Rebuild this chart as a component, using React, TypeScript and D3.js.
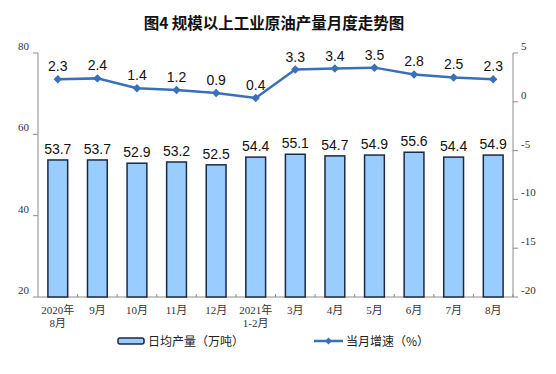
import React from "react";
import { scaleBand, scaleLinear, line } from "d3";

const categories = ["2020年\n8月", "9月", "10月", "11月", "12月", "2021年\n1-2月", "3月", "4月", "5月", "6月", "7月", "8月"];
const dailyOutput = [53.7, 53.7, 52.9, 53.2, 52.5, 54.4, 55.1, 54.7, 54.9, 55.6, 54.4, 54.9];
const growth = [2.3, 2.4, 1.4, 1.2, 0.9, 0.4, 3.3, 3.4, 3.5, 2.8, 2.5, 2.3];
const leftTicks = [20, 40, 60, 80];
const rightTicks = [-20, -15, -10, -5, 0, 5];

const width = 556;
const height = 374;
const margin = { top: 53, right: 43, bottom: 77, left: 38 };

const App = () => {
  const innerWidth = width - margin.left - margin.right;
  const innerHeight = height - margin.top - margin.bottom;

  const xScale = scaleBand<number>()
    .domain(categories.map((_, i) => i))
    .range([0, innerWidth])
    .paddingInner(0.5)
    .paddingOuter(0.25);
  const step = innerWidth / categories.length;

  const yLeft = scaleLinear().domain([20, 80]).range([innerHeight, 0]);
  const yRight = scaleLinear().domain([-20, 5]).range([innerHeight, 0]);

  const cx = (i: number) => (xScale(i) as number) + xScale.bandwidth() / 2;

  const growthLine = line<number>()
    .x((_, i) => cx(i))
    .y(d => yRight(d));

  const axisColor = "#8c8c8c";
  const lineColor = "#3a70b8";
  const numFont = "'Liberation Serif', 'Noto Sans CJK SC', serif";

  return (
    <svg width={width} height={height} style={{ position: "absolute", left: 0, top: 0, background: "#fff" }}>
      <text x={274} y={29} textAnchor="middle" fontSize={15.5} fontWeight="bold"
        fontFamily="'Noto Sans CJK SC', sans-serif" fill="#111">图4 规模以上工业原油产量月度走势图</text>
      <g transform={`translate(${margin.left}, ${margin.top})`}>
        {/* axes */}
        <line x1={0} x2={0} y1={0} y2={innerHeight} stroke={axisColor} />
        <line x1={innerWidth} x2={innerWidth} y1={0} y2={innerHeight} stroke={axisColor} />
        <line x1={0} x2={innerWidth} y1={innerHeight} y2={innerHeight} stroke={axisColor} />
        {leftTicks.map(t => (
          <g key={t} transform={`translate(0, ${yLeft(t)})`}>
            <line x1={-5} x2={0} stroke={axisColor} />
            <text x={-9} y={-3} textAnchor="end" fontSize={11} fontFamily={numFont} fill="#333">{t}</text>
          </g>
        ))}
        {rightTicks.map(t => (
          <g key={t} transform={`translate(${innerWidth}, ${yRight(t)})`}>
            <line x1={0} x2={5} stroke={axisColor} />
            <text x={8} y={-3} textAnchor="start" fontSize={11} fontFamily={numFont} fill="#333">{t}</text>
          </g>
        ))}
        {categories.map((_, i) => (
          <line key={i} x1={step * (i + 1)} x2={step * (i + 1)} y1={innerHeight} y2={innerHeight - 3} stroke={axisColor} />
        ))}
        {/* category labels */}
        {categories.map((c, i) => (
          <text key={i} x={cx(i)} y={innerHeight + 17} textAnchor="middle" fontSize={11}
            fontFamily={numFont} fill="#333">
            {c.split("\n").map((s, j) => (
              <tspan key={j} x={cx(i)} dy={j === 0 ? 0 : 13}>{s}</tspan>
            ))}
          </text>
        ))}
        {/* bars */}
        {dailyOutput.map((d, i) => (
          <rect key={i} x={xScale(i)} y={yLeft(d)} width={xScale.bandwidth()} height={innerHeight - yLeft(d)}
            fill="#99ccff" stroke="#1b2a44" strokeWidth={1.5} />
        ))}
        {dailyOutput.map((d, i) => (
          <text key={i} x={cx(i)} y={yLeft(d) - 6} textAnchor="middle" fontSize={14}
            fontFamily="'Liberation Sans', Arial, sans-serif" fill="#111">{d.toFixed(1)}</text>
        ))}
        {/* growth line */}
        <path d={growthLine(growth) || ""} fill="none" stroke={lineColor} strokeWidth={2.5} />
        {growth.map((d, i) => (
          <rect key={i} x={-3} y={-3} width={6} height={6} fill={lineColor}
            transform={`translate(${cx(i)}, ${yRight(d)}) rotate(45)`} />
        ))}
        {growth.map((d, i) => (
          <text key={i} x={cx(i)} y={yRight(d) - 8} textAnchor="middle" fontSize={14}
            fontFamily="'Liberation Sans', Arial, sans-serif" fill="#111">{d.toFixed(1)}</text>
        ))}
      </g>
      {/* legend */}
      <rect x={118} y={338} width={26} height={6} rx={2} fill="#99ccff" stroke="#1b2a44" strokeWidth={1.5} />
      <text x={148} y={346} fontSize={12} fontFamily="'Noto Sans CJK SC', sans-serif" fill="#222">日均产量（万吨）</text>
      <line x1={314} x2={343} y1={341} y2={341} stroke={lineColor} strokeWidth={2.5} />
      <rect x={-2.5} y={-2.5} width={5} height={5} fill={lineColor} transform="translate(328.5, 341) rotate(45)" />
      <text x={346} y={346} fontSize={12} fontFamily="'Noto Sans CJK SC', sans-serif" fill="#222">当月增速（%）</text>
    </svg>
  );
};

export default App;
